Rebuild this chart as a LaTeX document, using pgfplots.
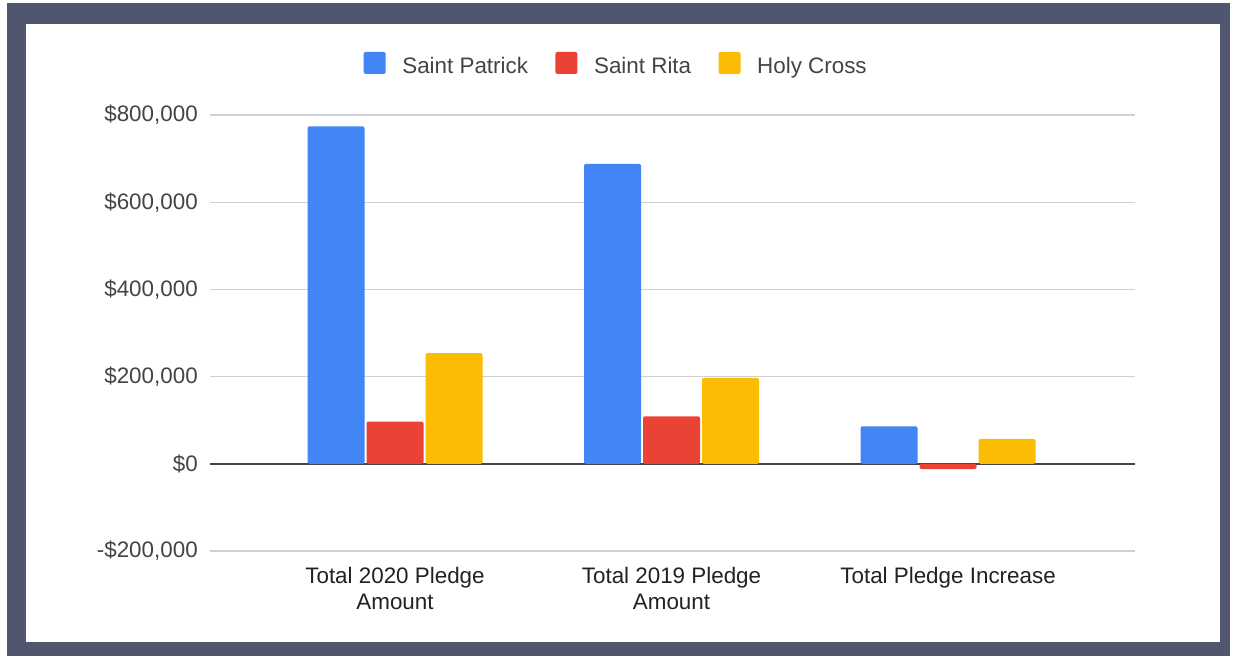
\documentclass[border=0pt]{standalone}
\usepackage{pgfplots}
\pgfplotsset{compat=1.18}
\usepackage{fontspec}
\setmainfont{Liberation Sans}
\definecolor{cBlue}{HTML}{4285F4}
\definecolor{cRed}{HTML}{EA4335}
\definecolor{cYel}{HTML}{FBBC04}
\definecolor{frameC}{HTML}{50566E}
\definecolor{gridC}{HTML}{D0D0D0}
\definecolor{zeroC}{HTML}{444444}
\definecolor{txtA}{HTML}{222222}
\definecolor{txtB}{HTML}{444444}
\begin{document}
\begin{tikzpicture}
\begin{scope}[x=0.75pt,y=0.75pt]
\useasboundingbox (0,0) rectangle (1235,659);
\fill[white] (0,0) rectangle (1235,659);
\fill[frameC] (7,3) rectangle (1230,656);
\fill[white] (26,17) rectangle (1220,635);
\end{scope}
\begin{axis}[
  at={(157.5pt,81pt)}, anchor=south west,
  scale only axis, width=693.75pt, height=327pt,
  ybar=1.5pt, bar width=42.75pt,
  xmin=-0.669, xmax=2.676,
  ymin=-200000, ymax=800000,
  scaled ticks=false,
  axis line style={draw=none},
  major tick length=0pt,
  xtick={0,1,2},
  xticklabels={Total 2020 Pledge\\Amount, Total 2019 Pledge\\Amount, Total Pledge Increase},
  xticklabel style={align=center, font=\fontsize{16.8}{19.5}\selectfont, text=txtA, inner sep=0pt, anchor=north, yshift=-12pt},
  ytick={-200000,0,200000,400000,600000,800000},
  yticklabels={{-\$200,000}, {\$0}, {\$200,000}, {\$400,000}, {\$600,000}, {\$800,000}},
  yticklabel style={font=\fontsize{16.8}{19.5}\selectfont, text=txtB, inner sep=0pt, anchor=east, xshift=-9pt},
  ymajorgrids, grid style={gridC, line width=0.9pt},
  extra y ticks={0}, extra y tick labels={},
  extra y tick style={grid style={zeroC, line width=1.4pt}},
  legend columns=3,
  legend style={at={(axis description cs:0.4395,1.115)}, anchor=center, draw=none, fill=none,
    font=\fontsize{16.8}{19.5}\selectfont, text=txtB,
    /tikz/every odd column/.append style={column sep=10.5pt},
    /tikz/every even column/.append style={column sep=18.5pt}},
  legend image code/.code={\fill[#1, rounded corners=1.5pt] (0pt,-6pt) rectangle (16.5pt,10.5pt);},
]
\addplot[fill=cBlue, draw=none, rounded corners=1.5pt] coordinates {(0,774000) (1,688000) (2,86000)};
\addplot[fill=cRed, draw=none, rounded corners=1.5pt] coordinates {(0,97000) (1,109000) (2,-12000)};
\addplot[fill=cYel, draw=none, rounded corners=1.5pt] coordinates {(0,254000) (1,197000) (2,57000)};
\legend{Saint Patrick, Saint Rita, Holy Cross}
\end{axis}
\end{tikzpicture}
\end{document}
